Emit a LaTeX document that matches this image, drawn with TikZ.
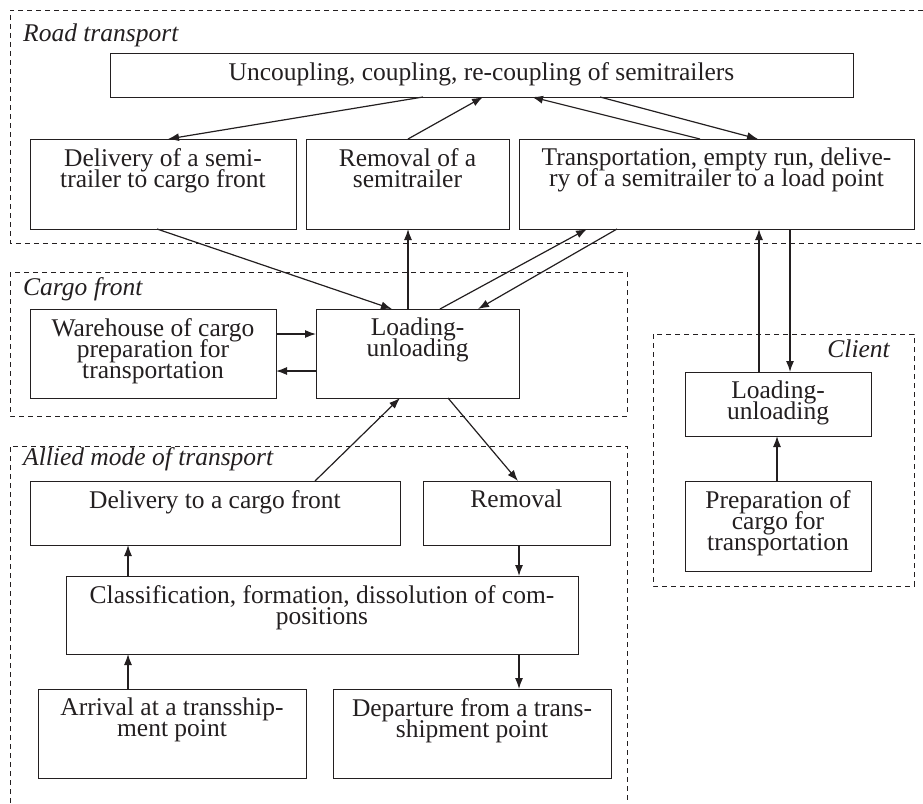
\documentclass[tikz,border=0pt]{standalone}
\usepackage{fontspec}
\setmainfont{Liberation Serif}
\newfontfamily\tnr{Liberation Serif}
\usetikzlibrary{arrows.meta}
\definecolor{ink}{HTML}{231F20}
\newcommand\boxfont{\tnr\fontsize{25.5}{21}\selectfont\lineskiplimit=-100pt\relax}
\newcommand\grpfont{\tnr\fontsize{25.5}{21}\selectfont\itshape}
\tikzset{
  box/.style={draw=ink, line width=1pt, rectangle, anchor=north west, inner sep=0pt, outer sep=0pt},
  txt/.style={anchor=north, inner sep=0pt, align=center, text=ink, font={\boxfont}},
  grp/.style={draw=ink, line width=0.9pt, dash pattern=on 5pt off 4pt},
  glabel/.style={inner sep=0pt, text=ink, font={\grpfont}},
  arr/.style={draw=ink, line width=1.2pt, -{Latex[length=11pt,width=8pt]}}
}
\begin{document}
\begin{tikzpicture}[x=1pt,y=-1pt]
\useasboundingbox (0,0) rectangle (923,803);
% group frames
\draw[grp] (923,10) -- (10,10) -- (10,243) -- (923,243);
\draw[grp] (10,272) rectangle (627,416);
\draw[grp] (653,334) rectangle (914,586);
\draw[grp] (10,803) -- (10,446) -- (627,446) -- (627,803);
% group labels
\node[glabel, anchor=base west] (lroad) at (23,41) {Road transport};
\node[glabel, anchor=base west] (lcargo) at (23,295) {Cargo front};
\node[glabel, anchor=base east] (lclient) at (890,357) {Client};
\node[glabel, anchor=base west] (lallied) at (23,465) {Allied mode of transport};
% boxes
\node[box, minimum width=743pt, minimum height=44pt] (top) at (110,53) {};
\node[box, minimum width=266pt, minimum height=90pt] (del) at (30,139) {};
\node[box, minimum width=203pt, minimum height=90pt] (rem) at (306,139) {};
\node[box, minimum width=395pt, minimum height=90pt] (trn) at (519,139) {};
\node[box, minimum width=246pt, minimum height=89pt] (wh) at (30,309) {};
\node[box, minimum width=203pt, minimum height=89pt] (lu) at (316,309) {};
\node[box, minimum width=186pt, minimum height=64pt] (clu) at (685,372) {};
\node[box, minimum width=186pt, minimum height=90pt] (prep) at (685,481) {};
\node[box, minimum width=370pt, minimum height=64pt] (dcf) at (30,481) {};
\node[box, minimum width=187pt, minimum height=64pt] (arem) at (423,481) {};
\node[box, minimum width=512pt, minimum height=78pt] (cls) at (66,576) {};
\node[box, minimum width=268pt, minimum height=89pt] (arr) at (38,689) {};
\node[box, minimum width=278pt, minimum height=89pt] (dep) at (333,689) {};
% texts
\node[txt] (ttop) at ([yshift=-9pt]top.north) {Uncoupling, coupling, re-coupling of semitrailers};
\node[txt] (tdel) at ([yshift=-9pt]del.north) {Delivery of a semi-\\trailer to cargo front};
\node[txt] (trem) at ([yshift=-9pt]rem.north) {Removal of a\\semitrailer};
\node[txt] (ttrn) at ([yshift=-9pt]trn.north) {Transportation, empty run, delive-\\ry of a semitrailer to a load point};
\node[txt] (twh) at ([yshift=-9pt]wh.north) {Warehouse of cargo\\preparation for\\transportation};
\node[txt] (tlu) at ([yshift=-9pt]lu.north) {Loading-\\unloading};
\node[txt] (tclu) at ([yshift=-9pt]clu.north) {Loading-\\unloading};
\node[txt] (tprep) at ([yshift=-9pt]prep.north) {Preparation of\\cargo for\\transportation};
\node[txt] (tdcf) at ([yshift=-9pt]dcf.north) {Delivery to a cargo front};
\node[txt] (tarem) at ([yshift=-9pt]arem.north) {Removal};
\node[txt] (tcls) at ([yshift=-9pt]cls.north) {Classification, formation, dissolution of com-\\positions};
\node[txt] (tarr) at ([yshift=-9pt]arr.north) {Arrival at a transship-\\ment point};
\node[txt] (tdep) at ([yshift=-9pt]dep.north) {Departure from a trans-\\shipment point};
% connectors: road transport
\draw[arr] ([xshift=313pt]top.south west) -- ([xshift=138pt]del.north west);
\draw[arr] ([xshift=102pt]rem.north west) -- ([xshift=373pt]top.south west);
\draw[arr] ([xshift=181pt]trn.north west) -- ([xshift=422pt]top.south west);
\draw[arr] ([xshift=490pt]top.south west) -- ([xshift=239pt]trn.north west);
% road <-> cargo front
\draw[arr] ([xshift=127pt]del.south west) -- ([xshift=76pt]lu.north west);
\draw[arr] ([xshift=92pt]lu.north west) -- ([xshift=102pt]rem.south west);
\draw[arr] ([xshift=124pt]lu.north west) -- ([xshift=68pt]trn.south west);
\draw[arr] ([xshift=98pt]trn.south west) -- ([xshift=162pt]lu.north west);
% road <-> client
\draw[arr] ([xshift=74pt]clu.north west) -- ([xshift=240pt]trn.south west);
\draw[arr] ([xshift=271pt]trn.south west) -- ([xshift=105pt]clu.north west);
% cargo front
\draw[arr] ([yshift=-25pt]wh.north east) -- ([yshift=-25pt]lu.north west);
\draw[arr] ([yshift=-62pt]lu.north west) -- ([yshift=-62pt]wh.north east);
% client
\draw[arr] ([xshift=92pt]prep.north west) -- ([xshift=92pt]clu.south west);
% allied <-> cargo front
\draw[arr] ([xshift=285pt]dcf.north west) -- ([xshift=84pt]lu.south west);
\draw[arr] ([xshift=132pt]lu.south west) -- ([xshift=95pt]arem.north west);
% allied
\draw[arr] ([xshift=62pt]cls.north west) -- ([xshift=98pt]dcf.south west);
\draw[arr] ([xshift=96pt]arem.south west) -- ([xshift=453pt]cls.north west);
\draw[arr] ([xshift=90pt]arr.north west) -- ([xshift=62pt]cls.south west);
\draw[arr] ([xshift=453pt]cls.south west) -- ([xshift=186pt]dep.north west);
\end{tikzpicture}
\end{document}
